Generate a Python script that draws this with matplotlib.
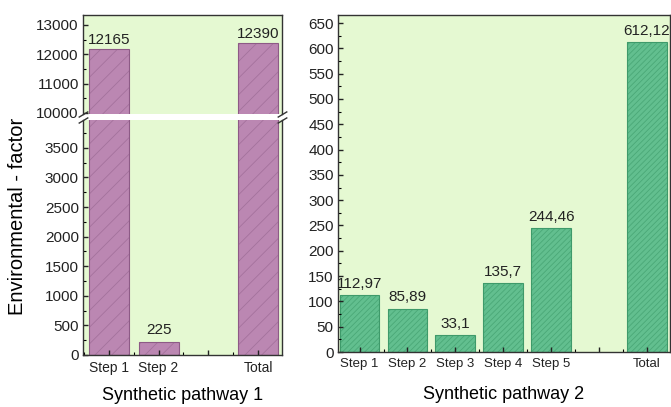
import numpy as np
import matplotlib
matplotlib.use("Agg")
import matplotlib.pyplot as plt
from matplotlib.ticker import MultipleLocator

plt.rcParams['font.family'] = ['Liberation Sans', 'DejaVu Sans']
plt.rcParams['hatch.linewidth'] = 0.6

# data
p1_labels = ["Step 1", "Step 2", "", "Total"]
p1_pos = [1, 2, 4]
p1_vals = [12165, 225, 12390]

p2_labels = ["Step 1", "Step 2", "Step 3", "Step 4", "Step 5", "", "Total"]
p2_pos = [1, 2, 3, 4, 5, 7]
p2_vals = [112.97, 85.89, 33.1, 135.7, 244.46, 612.12]

BG = "#e5f9d2"
PINK = "#bb87b2"
PINK_HATCH = "#a4729c"
PINK_EDGE = "#8d5a86"
GREEN = "#62bf8f"
GREEN_HATCH = "#4aa877"
GREEN_EDGE = "#3e9a6a"

W, H = 671, 407
fig = plt.figure(figsize=(W / 100, H / 100), dpi=100)

def frac(x0, y0, x1, y1):
    # pixel box (top-left origin) -> figure fraction rect
    return [x0 / W, 1 - y1 / H, (x1 - x0) / W, (y1 - y0) / H]

ax_up = fig.add_axes(frac(83, 15, 282, 114))
ax_lo = fig.add_axes(frac(83, 120, 282, 355))
ax2 = fig.add_axes(frac(338, 15, 670, 352))

def style(ax, ysize):
    ax.set_facecolor(BG)
    ax.tick_params(direction="in", length=3.5, width=1, colors="#222222")
    ax.tick_params(axis="y", labelsize=ysize, pad=3)
    ax.tick_params(which="minor", direction="in", length=2, width=0.8)
    ax.tick_params(right=False, top=False)
    for s in ax.spines.values():
        s.set_color("#333333")
        s.set_linewidth(1)

def bars(ax, pos, vals, w, fill, hatch_col, edge, hatch):
    ax.bar(pos, vals, width=w, color=fill, edgecolor=hatch_col, hatch=hatch, linewidth=0)
    ax.bar(pos, vals, width=w, fill=False, edgecolor=edge, linewidth=0.8)

for ax in (ax_up, ax_lo):
    style(ax, 11)
    bars(ax, p1_pos, p1_vals, 0.8, PINK, PINK_HATCH, PINK_EDGE, "//")
    ax.set_xlim(0.48, 4.48)

ax_up.set_ylim(9960, 13340)
ax_up.yaxis.set_major_locator(MultipleLocator(1000))
ax_up.yaxis.set_minor_locator(MultipleLocator(500))
ax_up.spines["bottom"].set_visible(False)
ax_up.tick_params(axis="x", which="both", bottom=False, labelbottom=False)

ax_lo.set_ylim(0, 3970)
ax_lo.yaxis.set_major_locator(MultipleLocator(500))
ax_lo.yaxis.set_minor_locator(MultipleLocator(250))
ax_lo.spines["top"].set_visible(False)
ax_lo.set_xticks(range(1, 5))
ax_lo.set_xticklabels(p1_labels)
ax_lo.xaxis.set_minor_locator(MultipleLocator(0.5))
ax_lo.tick_params(axis="x", labelsize=10, pad=4)
ax_lo.set_xlabel("Synthetic pathway 1", fontsize=13, labelpad=9)
ax_lo.set_ylabel("Environmental - factor", fontsize=14.5, labelpad=4)
ax_lo.yaxis.set_label_coords(-0.28, 0.59)

for x, v in zip(p1_pos, p1_vals):
    ax = ax_up if v > 10000 else ax_lo
    ax.text(x, v + (70 if v > 10000 else 80), str(v), ha="center", va="bottom",
            fontsize=11, color="#222222")

# break marks
kw = dict(marker=[(-1, -0.6), (1, 0.6)], markersize=7, linestyle="none",
          color="#333333", mec="#333333", mew=1, clip_on=False)
ax_up.plot([0, 1], [0, 0], transform=ax_up.transAxes, **kw)
ax_lo.plot([0, 1], [1, 1], transform=ax_lo.transAxes, **kw)

# pathway 2
style(ax2, 11)
bars(ax2, p2_pos, p2_vals, 0.83, GREEN, GREEN_HATCH, GREEN_EDGE, "//////")
ax2.set_xlim(0.55, 7.48)
ax2.set_ylim(0, 666)
ax2.yaxis.set_major_locator(MultipleLocator(50))
ax2.yaxis.set_minor_locator(MultipleLocator(25))
ax2.set_xticks(range(1, 8))
ax2.set_xticklabels(p2_labels)
ax2.xaxis.set_minor_locator(MultipleLocator(0.5))
ax2.tick_params(axis="x", labelsize=9.5, pad=4)
ax2.set_xlabel("Synthetic pathway 2", fontsize=13, labelpad=12)
for x, v in zip(p2_pos, p2_vals):
    ax2.text(x, v + 8, f"{v:g}".replace(".", ","), ha="center", va="bottom",
             fontsize=11, color="#222222", clip_on=False)

fig.savefig("out.png", dpi=100, facecolor="white")
